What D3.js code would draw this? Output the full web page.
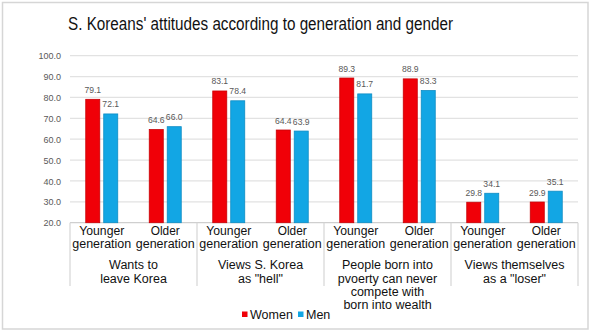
<!DOCTYPE html>
<html><head><meta charset="utf-8">
<script src="https://cdn.jsdelivr.net/npm/d3@7"></script>
<style>html,body{margin:0;padding:0;background:#fff;}svg{display:block;}</style>
</head><body>
<script>
const groups = ["Wants to leave Korea", "Views S. Korea as \"hell\"", "People born into poverty", "Views themselves as a \"loser\""];
const groupLines = [["Wants to","leave Korea"],["Views S. Korea","as \"hell\""],["People born into","pvoerty can never","compete with","born into wealth"],["Views themselves","as a \"loser\""]];
const generations = ["Younger", "Older"];
const seriesNames = ["Women", "Men"];
const women = [79.1, 64.6, 83.1, 64.4, 89.3, 88.9, 29.8, 29.9];
const men = [72.1, 66.0, 78.4, 63.9, 81.7, 83.3, 34.1, 35.1];
const yTicks = [20, 30, 40, 50, 60, 70, 80, 90, 100];
const colors = {Women: "#f00008", Men: "#12a6e4"};
const strokes = {Women: "#c80006", Men: "#0e8cc4"};

(function(){
const W = 590, H = 333;
const svg = d3.select("body").append("svg").attr("width", W).attr("height", H);
const font = "'Liberation Sans', Arial, sans-serif";

svg.append("rect").attr("x",2.5).attr("y",2.5).attr("width",585.5).attr("height",326.5)
  .attr("fill","#fff").attr("stroke","#d6d6d6").attr("stroke-width",1.5);

svg.append("text").attr("x",260.5).attr("y",29.5).attr("text-anchor","middle")
  .attr("font-family",font).attr("font-size",17.5).attr("fill","#111")
  .attr("textLength",385).attr("lengthAdjust","spacingAndGlyphs")
  .text("S. Koreans' attitudes according to generation and gender");

const pL = 70, pR = 578, pT = 55.7, pB = 222.7;
const y = d3.scaleLinear().domain([20,100]).range([pB, pT]);
const x0 = d3.scaleBand().domain(groups).range([pL,pR]);
const x1 = d3.scaleBand().domain(generations).range([0, x0.bandwidth()]);
const cw = x1.bandwidth();
const x2 = d3.scaleBand().domain(seriesNames).range([cw/2-16, cw/2+16]).paddingInner(0.22);

svg.append("g").selectAll("line").data(yTicks).join("line")
  .attr("x1",pL).attr("x2",pR).attr("y1",d=>y(d)).attr("y2",d=>y(d))
  .attr("stroke",d=>d===20?"#cfcfcf":"#e2e2e2").attr("stroke-width",1.2);

const yAxis = svg.append("g").attr("transform",`translate(${pL-9},0)`)
  .call(d3.axisLeft(y).tickValues(yTicks).tickFormat(d3.format(".1f")).tickSize(0));
yAxis.select(".domain").remove();
yAxis.selectAll("text").attr("font-family",font).attr("font-size",9).attr("fill","#595959").attr("x",0).attr("dy","0.35em");

const rows = [];
groups.forEach((g,gi)=>generations.forEach((gen,ki)=>{
  const i = gi*2+ki;
  rows.push({g, gen, s:"Women", v:women[i]});
  rows.push({g, gen, s:"Men", v:men[i]});
}));
const bx = d => x0(d.g) + x1(d.gen) + x2(d.s);

svg.append("g").selectAll("rect").data(rows).join("rect")
  .attr("x",bx).attr("width",x2.bandwidth())
  .attr("y",d=>y(d.v)).attr("height",d=>y(20)-y(d.v))
  .attr("fill",d=>colors[d.s]).attr("stroke",d=>strokes[d.s]).attr("stroke-width",0.8);

svg.append("g").selectAll("text").data(rows).join("text")
  .attr("x",d=>bx(d)+x2.bandwidth()/2).attr("y",d=>y(d.v)-6.5)
  .attr("text-anchor","middle").attr("font-family",font).attr("font-size",8.6).attr("fill","#595959")
  .text(d=>d3.format(".1f")(d.v));

const seps = groups.map(g=>x0(g)).concat([pR]);
svg.append("g").selectAll("line").data(seps).join("line")
  .attr("x1",d=>d).attr("x2",d=>d).attr("y1",pB).attr("y2",286)
  .attr("stroke","#d6d6d6").attr("stroke-width",1.2);

const genCells = [];
groups.forEach(g=>generations.forEach(gen=>genCells.push({g,gen})));
const gl = svg.append("g").selectAll("text").data(genCells).join("text")
  .attr("text-anchor","middle").attr("font-family",font).attr("font-size",12).attr("fill","#111")
  .attr("transform",d=>`translate(${x0(d.g)+x1(d.gen)+cw/2},0)`);
gl.append("tspan").attr("x",0).attr("y",235).attr("textLength",d=>d.gen==="Younger"?45:29).attr("lengthAdjust","spacingAndGlyphs").text(d=>d.gen);
gl.append("tspan").attr("x",0).attr("y",247.5).attr("textLength",59).attr("lengthAdjust","spacingAndGlyphs").text("generation");

const lineY = [269, 282.5, 295.5, 308.5];
const gt = svg.append("g").selectAll("text").data(groups).join("text")
  .attr("text-anchor","middle").attr("font-family",font).attr("font-size",12.5).attr("fill","#111")
  .attr("transform",d=>`translate(${x0(d)+x0.bandwidth()/2},0)`);
gt.selectAll("tspan").data((d,i)=>groupLines[i]).join("tspan")
  .attr("x",0).attr("y",(d,i)=>lineY[i]).text(d=>d);

const legX = [242, 298];
const leg = svg.append("g").selectAll("g").data(seriesNames).join("g")
  .attr("transform",(d,i)=>`translate(${legX[i]},314)`);
leg.append("rect").attr("x",0).attr("y",-2.5).attr("width",5.5).attr("height",5.5).attr("fill",d=>colors[d]);
leg.append("text").attr("x",8).attr("y",0).attr("dy","0.36em").attr("font-family",font).attr("font-size",12.5).attr("fill","#111").text(d=>d);
})();
</script>
</body></html>
